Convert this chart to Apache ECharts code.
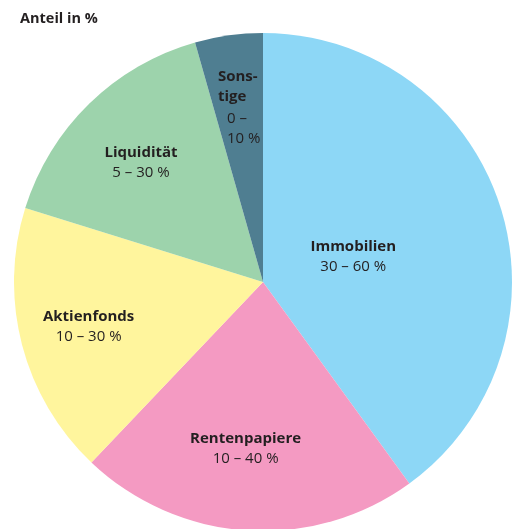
<!DOCTYPE html>
<html><head><meta charset="utf-8">
<script src="https://cdn.jsdelivr.net/npm/echarts@6/dist/echarts.min.js"></script>
<style>html,body{margin:0;padding:0;background:#fff}#c{width:513px;height:529px}</style>
</head><body><div id="c"></div>
<script>
const categories = ["Immobilien", "Rentenpapiere", "Aktienfonds", "Liquidität", "Sonstige"];
const nameLabels = ["Immobilien", "Rentenpapiere", "Aktienfonds", "Liquidität", "Sons-\ntige"];
const rangeLabels = ["30 – 60 %", "10 – 40 %", "10 – 30 %", "5 – 30 %", "0 –\n10 %"];
const shares = [40.0, 22.1, 17.7, 15.8, 4.4];
const colors = ["#8dd7f6", "#f49ac2", "#fff59d", "#9dd3ac", "#4f7e91"];
const labelOffsets = [[-31, 14], [-9, 40], [-51, 13], [-33, -28], [-5, -48]];

const FONT = "Open Sans";
const FS = 15;
const chart = echarts.init(document.getElementById('c'), null, {renderer: 'canvas'});
const data = categories.map((c, i) => {
  const item = {name: c, value: shares[i], itemStyle: {color: colors[i]}, label: {offset: labelOffsets[i]}};
  if (i === 4) {
    const n = nameLabels[i].split('\n'), r = rangeLabels[i].split('\n');
    item.label.formatter = '{sb|' + n[0] + '}\n{sb|' + n[1] + '}\n{sv1|' + r[0] + '}\n{sv|' + r[1] + '}';
  }
  return item;
});
chart.setOption({
  animation: false,
  title: {text: 'Anteil in %', left: 15, top: 6, textStyle: {fontFamily: FONT, fontWeight: 'bold', fontSize: 14.5, color: '#231f20'}},
  series: [{
    type: 'pie',
    center: [263, 282],
    radius: [0, 249],
    startAngle: 90,
    clockwise: true,
    itemStyle: {borderWidth: 0},
    emphasis: {disabled: true},
    labelLine: {show: false},
    label: {
      show: true,
      position: 'inside',
      formatter: p => '{b|' + nameLabels[p.dataIndex] + '}\n{v|' + rangeLabels[p.dataIndex] + '}',
      rich: {
        b: {fontFamily: FONT, fontWeight: 'bold', fontSize: FS, color: '#231f20', lineHeight: 20, align: 'center'},
        v: {fontFamily: FONT, fontSize: FS, color: '#231f20', lineHeight: 20, align: 'center'},
        sb: {fontFamily: FONT, fontWeight: 'bold', fontSize: FS, color: '#231f20', lineHeight: 20, width: 45, align: 'left'},
        sv1: {fontFamily: FONT, fontSize: FS, color: '#231f20', lineHeight: 22, width: 36, align: 'left', padding: [2, 0, 0, 9]},
        sv: {fontFamily: FONT, fontSize: FS, color: '#231f20', lineHeight: 20, width: 36, align: 'left', padding: [0, 0, 0, 9]}
      }
    },
    data: data
  }]
});
</script></body></html>
